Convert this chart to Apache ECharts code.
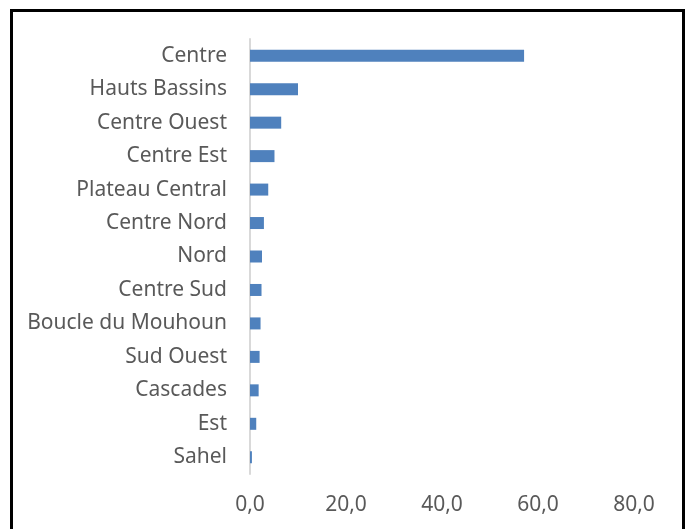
<!DOCTYPE html>
<html>
<head>
<meta charset="utf-8">
<script src="https://cdn.jsdelivr.net/npm/echarts@6/dist/echarts.min.js"></script>
<style>
  html, body { margin: 0; padding: 0; background: #fff; }
  #chart { width: 685px; height: 529px; }
</style>
</head>
<body>
<div id="chart"></div>
<script>
var regions = ['Centre', 'Hauts Bassins', 'Centre Ouest', 'Centre Est', 'Plateau Central',
  'Centre Nord', 'Nord', 'Centre Sud', 'Boucle du Mouhoun', 'Sud Ouest', 'Cascades', 'Est', 'Sahel'];
var values = [57.1, 10.0, 6.5, 5.1, 3.8, 2.9, 2.5, 2.4, 2.2, 2.0, 1.8, 1.3, 0.4];
var xTicks = [0, 20, 40, 60, 80];

var myChart = echarts.init(document.getElementById('chart'));

var option = {
  animation: false,
  backgroundColor: '#fff',
  textStyle: { fontFamily: 'Noto Sans' },
  graphic: [{
    type: 'rect',
    shape: { x: 11.5, y: 10.5, width: 672, height: 540 },
    style: { fill: 'none', stroke: '#000', lineWidth: 3 }
  }],
  grid: { left: 250, right: 51, top: 39, bottom: 55 },
  xAxis: {
    type: 'value',
    min: xTicks[0],
    max: xTicks[xTicks.length - 1],
    interval: 20,
    axisLine: { show: false },
    axisTick: { show: false },
    splitLine: { show: false },
    axisLabel: {
      color: '#595959',
      fontSize: 21,
      margin: 21,
      formatter: function (v) { return v.toFixed(1).replace('.', ','); }
    }
  },
  yAxis: {
    type: 'category',
    data: regions,
    inverse: true,
    axisLine: { lineStyle: { color: '#d9d9d9', width: 2 } },
    axisTick: { show: false },
    axisLabel: { color: '#595959', fontSize: 21, margin: 23 }
  },
  series: [{
    type: 'bar',
    data: values,
    barWidth: 12,
    itemStyle: { color: '#4f81bd' }
  }]
};

myChart.setOption(option);
</script>
</body>
</html>
